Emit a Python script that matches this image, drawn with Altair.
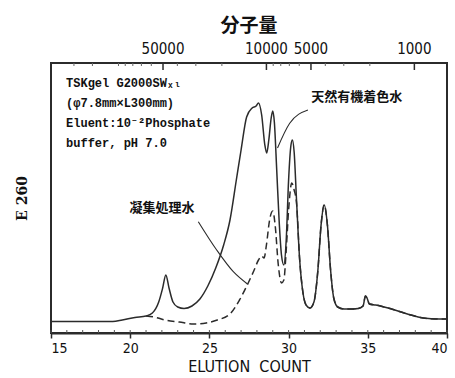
import math
import altair as alt
import pandas as pd

# Gel-filtration chromatograms (UV 260 nm) on TSKgel G2000SWxl
count_raw = [15.0, 18.9, 19.5, 20.3, 21.0, 21.4, 21.8, 22.05, 22.25, 22.45, 22.7, 23.0,
             23.4, 23.9, 24.4, 24.9, 25.4, 25.9, 26.3, 26.7, 27.0, 27.35, 27.7, 27.95,
             28.1, 28.3, 28.5, 28.62, 28.75, 28.9, 29.0, 29.1, 29.25, 29.4, 29.55, 29.7,
             29.85, 30.0, 30.15, 30.24, 30.35, 30.5, 30.7, 30.9, 31.1, 31.35, 31.6, 31.85,
             32.05, 32.25, 32.45, 32.65, 32.85, 33.1, 33.5, 34.0, 34.4, 34.7, 34.85, 34.95,
             35.1, 35.5, 36.5, 37.5, 38.5, 39.5, 40.0]
signal_raw = [11.5, 11.5, 13, 15.5, 17, 20, 31, 45, 58, 45, 31, 26,
              24.5, 27, 34, 47, 65, 88, 113, 153, 183, 216, 225, 227,
              230, 218, 188, 180, 193, 215, 222, 211, 163, 113, 78, 68,
              93, 153, 188, 193, 181, 133, 73, 41, 28, 25, 31, 63,
              108, 128, 108, 63, 35, 26, 24, 24, 24.5, 27, 37, 35,
              29, 28, 24, 19, 15, 14, 14]

count_treated = [21.0, 21.5, 22.2, 23.1, 24.0, 24.8, 25.5, 26.3, 26.9, 27.45, 27.8, 28.1,
                 28.3, 28.45, 28.6, 28.8, 29.0, 29.15, 29.35, 29.55, 29.7, 29.85, 30.0,
                 30.2, 30.35, 30.5, 30.7, 30.9, 31.1, 31.35, 31.6, 31.85, 32.05, 32.25,
                 32.45, 32.65, 32.85, 33.1, 33.5, 34.0, 34.4, 34.7, 34.85, 34.95, 35.1,
                 35.5, 36.5, 37.5, 38.5, 39.5, 40.0]
signal_treated = [17, 16, 13, 11, 9, 10, 13, 19, 33, 50, 62, 73,
                  77, 75, 88, 113, 122, 108, 68, 50, 53, 83, 123,
                  150, 143, 130, 73, 41, 28, 25, 31, 63, 108, 128,
                  108, 63, 35, 26, 24, 24, 24.5, 27, 37, 35, 29,
                  28, 24, 19, 15, 14, 14]

# Leader lines from the curve names to their traces
leader_raw_x = [29.3, 30.07, 31.22]
leader_raw_y = [185, 209.7, 223]
leader_treated_x = [24.3, 25.46, 26.51, 27.4]
leader_treated_y = [111.3, 83, 61.3, 49]

curve_names = ["天然有機着色水", "凝集処理水"]
curve_name_x = [34.3, 22.0]
curve_name_y = [236, 125]

info_lines = ["TSKgel G2000SWₓₗ", "(φ7.8mm×L300mm)", "Eluent:10⁻²Phosphate", "buffer, pH 7.0"]
info_x = [15.95, 15.95, 15.95, 15.95]
info_y = [250, 230, 210, 190]

# Molecular-weight calibration of the column (top scale)
mw_ticks = [200000, 150000, 100000, 90000, 80000, 70000, 60000, 50000, 40000, 30000,
            20000, 10000, 9000, 8000, 7000, 6000, 5000, 4000, 3000, 2000, 1000]
mw_labels = [50000, 10000, 5000, 1000]
cal_count_at_1e4 = 28.6
cal_counts_per_decade = 9.34


def mw_to_count(mw):
    return cal_count_at_1e4 - cal_counts_per_decade * (math.log10(mw) - 4)


x_major = [15, 20, 25, 30, 35, 40]
x_minor = list(range(15, 41))

W, H = 396, 270
INK = "#2b2b2b"
NARROW = "Liberation Sans Narrow, DejaVu Sans Condensed, sans-serif"
CJK = "Noto Sans CJK JP"
MONO = "Liberation Mono, DejaVu Sans Mono, monospace"

xs = alt.Scale(domain=[15, 40], nice=False, zero=False)
ys = alt.Scale(domain=[0, 270], nice=False)

x_axis = alt.Axis(values=x_major, tickSize=5, tickWidth=1.5, tickColor=INK, grid=False,
                  title="ELUTION\u00a0\u00a0COUNT", titleFont=NARROW, titleFontSize=16,
                  titleFontWeight="normal", titleColor="#111", titlePadding=3,
                  labelFont=NARROW, labelFontSize=14, labelColor="#111", labelPadding=3,
                  domainColor=INK, domainWidth=2)
y_axis = alt.Axis(title="E 260", labels=False, ticks=False, domain=False, grid=False,
                  titleFont="DejaVu Serif", titleFontSize=14, titleFontWeight="bold",
                  titleColor="#111", titlePadding=22)

raw_df = pd.DataFrame({"x": count_raw, "v": signal_raw})
treated_df = pd.DataFrame({"x": count_treated, "v": signal_treated})

raw_line = alt.Chart(raw_df).mark_line(color=INK, strokeWidth=1.5, interpolate="monotone").encode(
    x=alt.X("x:Q", scale=xs, axis=x_axis),
    y=alt.Y("v:Q", scale=ys, axis=y_axis),
)
treated_line = alt.Chart(treated_df).mark_line(
    color=INK, strokeWidth=1.5, strokeDash=[7, 4], interpolate="monotone"
).encode(x=alt.X("x:Q", scale=xs), y=alt.Y("v:Q", scale=ys))

leader_df = pd.DataFrame({
    "x": leader_raw_x + leader_treated_x,
    "v": leader_raw_y + leader_treated_y,
    "g": ["raw"] * len(leader_raw_x) + ["treated"] * len(leader_treated_x),
})
leaders = alt.Chart(leader_df).mark_line(color=INK, strokeWidth=1.1, interpolate="monotone").encode(
    x=alt.X("x:Q", scale=xs), y=alt.Y("v:Q", scale=ys), detail="g:N"
)

names_df = pd.DataFrame({"x": curve_name_x, "v": curve_name_y, "t": curve_names})
names = alt.Chart(names_df).mark_text(font=CJK, fontSize=13, fontWeight="bold", color="#111").encode(
    x=alt.X("x:Q", scale=xs), y=alt.Y("v:Q", scale=ys), text="t:N"
)

info_df = pd.DataFrame({"x": info_x, "v": info_y, "t": info_lines})
info = alt.Chart(info_df).mark_text(font=MONO, fontSize=12, fontWeight="bold", align="left",
                                    color="#111").encode(
    x=alt.X("x:Q", scale=xs), y=alt.Y("v:Q", scale=ys), text="t:N"
)

top_df = pd.DataFrame({"x": [mw_to_count(m) for m in mw_ticks],
                       "major": [m in mw_labels for m in mw_ticks]})
top_minor = alt.Chart(top_df[~top_df["major"]]).mark_rule(color="#666", strokeWidth=1).encode(
    x=alt.X("x:Q", scale=xs), y=alt.value(0), y2=alt.value(3)
)
top_major = alt.Chart(top_df[top_df["major"]]).mark_rule(color=INK, strokeWidth=1.5).encode(
    x=alt.X("x:Q", scale=xs), y=alt.value(0), y2=alt.value(7)
)
top_lab_df = pd.DataFrame({"x": [mw_to_count(m) for m in mw_labels],
                           "t": [str(m) for m in mw_labels]})
top_labels = alt.Chart(top_lab_df).mark_text(font=NARROW, fontSize=15, color="#111",
                                             baseline="bottom").encode(
    x=alt.X("x:Q", scale=xs), y=alt.value(-6), text="t:N"
)

minor_df = pd.DataFrame({"x": x_minor})
bottom_minor = alt.Chart(minor_df).mark_rule(color="#555", strokeWidth=1).encode(
    x=alt.X("x:Q", scale=xs), y=alt.value(H), y2=alt.value(H - 3)
)

chart = alt.layer(
    raw_line, treated_line, leaders, names, info,
    top_minor, top_major, top_labels, bottom_minor,
).properties(
    width=W, height=H,
    title=alt.TitleParams("分子量", font=CJK, fontSize=19, fontWeight="bold", color="#111",
                          anchor="middle", frame="group", offset=6),
    autosize=alt.AutoSizeParams(type="none"),
    padding={"left": 51, "top": 63, "right": 8, "bottom": 45},
    background="white",
).configure_view(stroke=INK, strokeWidth=2)

chart.save("out.html", embed_options={"renderer": "svg", "actions": False})
